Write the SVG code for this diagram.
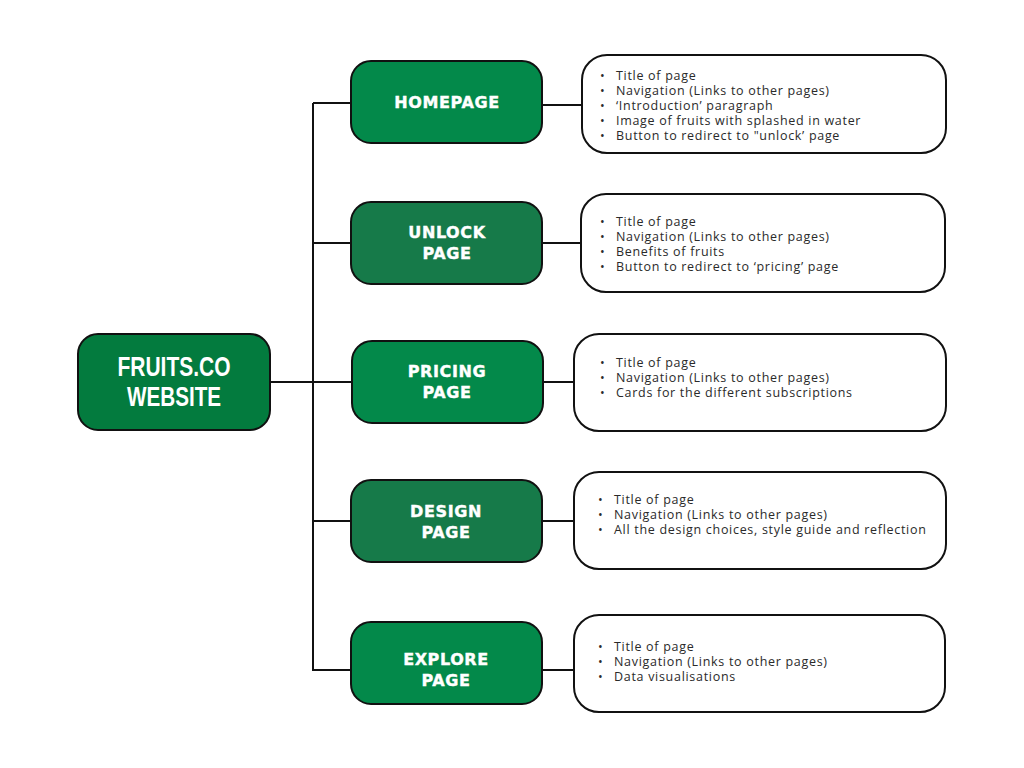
<svg xmlns="http://www.w3.org/2000/svg" width="1024" height="768" viewBox="0 0 1024 768">
<style>
.bg{fill:#ffffff}
.node{stroke:#111;stroke-width:2}
.g1{fill:#03894a}
.g2{fill:#167a49}
.g0{fill:#037b3e}
.lbl{font-family:"DejaVu Sans",sans-serif;font-weight:bold;font-size:16px;fill:#fff;stroke:#fff;stroke-width:0.4;text-anchor:middle;letter-spacing:0.6px}
.root{font-family:"Liberation Sans",sans-serif;font-weight:bold;font-size:28px;fill:#fff;text-anchor:middle}
.box{fill:#fff;stroke:#111;stroke-width:2}
.item{font-family:"Open Sans",sans-serif;font-size:12.5px;fill:#2a2a2a;letter-spacing:0.7px}
.conn{stroke:#111;stroke-width:2;fill:none}
</style>
<rect class="bg" x="0" y="0" width="1024" height="768"/>
<g id="connectors">
<path class="conn" d="M313 103 V670"/>
<path class="conn" d="M313 103 H351"/>
<path class="conn" d="M312 243 H351"/>
<path class="conn" d="M270 382 H352"/>
<path class="conn" d="M314 521 H351"/>
<path class="conn" d="M312 670 H351"/>
<path class="conn" d="M542 105 H582"/>
<path class="conn" d="M542 243 H581"/>
<path class="conn" d="M543 382 H574"/>
<path class="conn" d="M542 521 H574"/>
<path class="conn" d="M542 670 H574"/>
</g>
<g id="root">
<rect class="node g0" x="78" y="334" width="192" height="96" rx="20"/>
<text class="root" x="174" y="376" textLength="113" lengthAdjust="spacingAndGlyphs">FRUITS.CO</text>
<text class="root" x="174" y="406" textLength="94" lengthAdjust="spacingAndGlyphs">WEBSITE</text>
</g>
<g id="homepage">
<rect class="node g1" x="351" y="61" width="191" height="82" rx="20"/>
<text class="lbl" x="447" y="108">HOMEPAGE</text>
</g>
<g id="unlock">
<rect class="node g2" x="351" y="202" width="191" height="82" rx="20"/>
<text class="lbl" x="447" y="238">UNLOCK</text>
<text class="lbl" x="447" y="259">PAGE</text>
</g>
<g id="pricing">
<rect class="node g1" x="352" y="341" width="191" height="82" rx="20"/>
<text class="lbl" x="447" y="377">PRICING</text>
<text class="lbl" x="447" y="398">PAGE</text>
</g>
<g id="design">
<rect class="node g2" x="351" y="480" width="191" height="82" rx="20"/>
<text class="lbl" x="446" y="517">DESIGN</text>
<text class="lbl" x="446" y="538">PAGE</text>
</g>
<g id="explore">
<rect class="node g1" x="351" y="622" width="191" height="82" rx="20"/>
<text class="lbl" x="446" y="665">EXPLORE</text>
<text class="lbl" x="446" y="686">PAGE</text>
</g>
<g id="homepage-details">
<rect class="box" x="582" y="55" width="364" height="98" rx="25"/>
<text class="item" x="600" y="80">•<tspan x="616">Title of page</tspan></text>
<text class="item" x="600" y="95">•<tspan x="616">Navigation (Links to other pages)</tspan></text>
<text class="item" x="600" y="110">•<tspan x="616">‘Introduction’ paragraph</tspan></text>
<text class="item" x="600" y="125">•<tspan x="616">Image of fruits with splashed in water</tspan></text>
<text class="item" x="600" y="140">•<tspan x="616">Button to redirect to "unlock’ page</tspan></text>
</g>
<g id="unlock-details">
<rect class="box" x="581" y="194" width="364" height="98" rx="25"/>
<text class="item" x="600" y="226">•<tspan x="616">Title of page</tspan></text>
<text class="item" x="600" y="241">•<tspan x="616">Navigation (Links to other pages)</tspan></text>
<text class="item" x="600" y="256">•<tspan x="616">Benefits of fruits</tspan></text>
<text class="item" x="600" y="271">•<tspan x="616">Button to redirect to ‘pricing’ page</tspan></text>
</g>
<g id="pricing-details">
<rect class="box" x="574" y="334" width="372" height="97" rx="25"/>
<text class="item" x="600" y="367">•<tspan x="616">Title of page</tspan></text>
<text class="item" x="600" y="382">•<tspan x="616">Navigation (Links to other pages)</tspan></text>
<text class="item" x="600" y="397">•<tspan x="616">Cards for the different subscriptions</tspan></text>
</g>
<g id="design-details">
<rect class="box" x="574" y="472" width="372" height="97" rx="25"/>
<text class="item" x="598" y="504">•<tspan x="614">Title of page</tspan></text>
<text class="item" x="598" y="519">•<tspan x="614">Navigation (Links to other pages)</tspan></text>
<text class="item" x="598" y="534">•<tspan x="614">All the design choices, style guide and reflection</tspan></text>
</g>
<g id="explore-details">
<rect class="box" x="574" y="615" width="371" height="97" rx="25"/>
<text class="item" x="598" y="651">•<tspan x="614">Title of page</tspan></text>
<text class="item" x="598" y="666">•<tspan x="614">Navigation (Links to other pages)</tspan></text>
<text class="item" x="598" y="681">•<tspan x="614">Data visualisations</tspan></text>
</g>
</svg>
